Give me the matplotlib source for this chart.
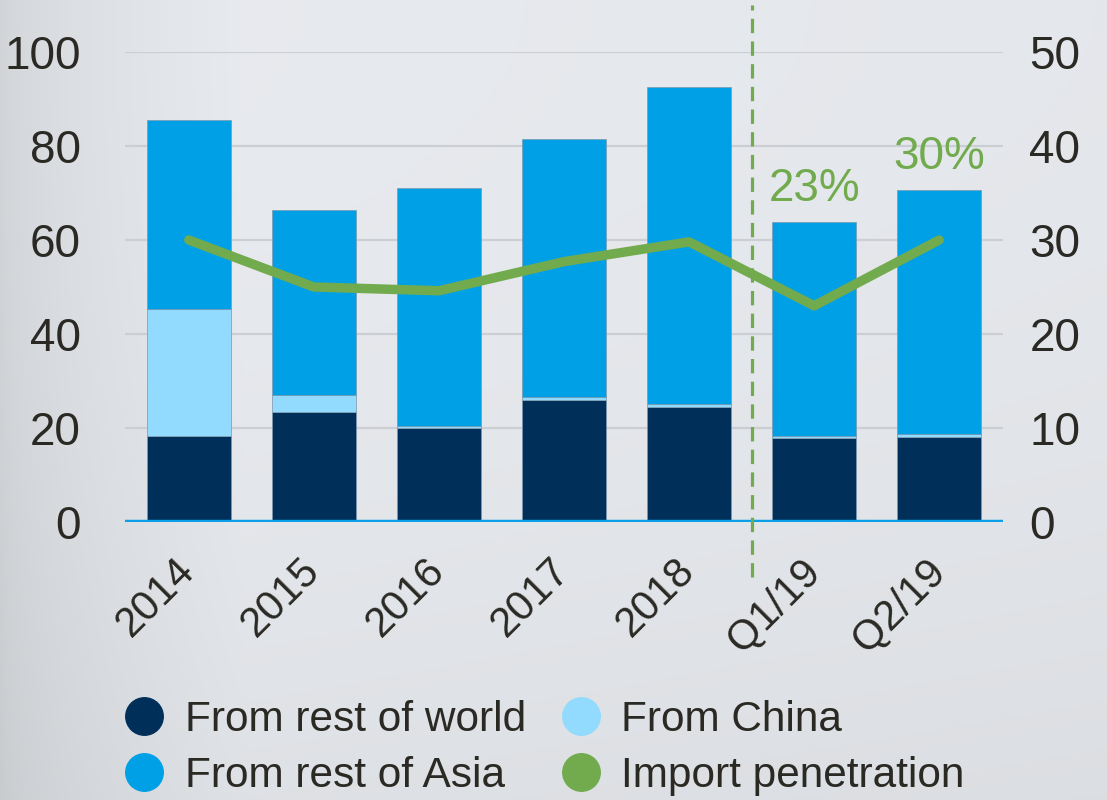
import numpy as np
import matplotlib
matplotlib.use("Agg")
import matplotlib.pyplot as plt
from matplotlib.lines import Line2D

plt.rcParams['font.family'] = ['Liberation Sans', 'DejaVu Sans']

periods = ["2014", "2015", "2016", "2017", "2018", "Q1/19", "Q2/19"]
rest_of_world = [18.3, 23.4, 20.0, 26.0, 24.5, 17.9, 18.1]
china = [27.0, 3.6, 0.5, 0.6, 0.6, 0.4, 0.6]
rest_of_asia = [40.2, 39.4, 50.6, 54.9, 67.5, 45.5, 51.9]
penetration = [30.0, 25.0, 24.6, 27.7, 29.8, 23.0, 30.0]
labelled = [5, 6]  # periods whose penetration is printed above the bar

NAVY = "#00305a"
ASIA = "#00a0e6"
CHINA = "#92dafe"
GREEN = "#72ab4e"
TEXT = "#2a2924"

fig = plt.figure(figsize=(11.07, 8), dpi=100)

# brushed-metal style backdrop
bg = fig.add_axes([0, 0, 1, 1], zorder=-10)
xx = np.linspace(0, 1, 400)
yy = np.linspace(0, 1, 300)
X, Y = np.meshgrid(xx, yy)
shade = 0.82 + 0.09 * np.clip(X / 0.22, 0, 1) ** 0.6 - 0.035 * Y ** 2 - 0.015 * X
rgb = np.dstack([shade * 1.0, shade * 1.012, shade * 1.03]).clip(0, 1)
bg.imshow(rgb, aspect="auto", extent=[0, 1, 0, 1], origin="upper")
bg.set_axis_off()

ax = fig.add_axes([0.1129, 0.3475, 0.7931, 0.5875])
ax.patch.set_alpha(0)
x = np.arange(len(periods))
w = 0.67
edge = dict(edgecolor="#7d98ad", linewidth=0.5)
ax.bar(x, rest_of_world, w, color=NAVY, zorder=3, **edge)
ax.bar(x, china, w, bottom=rest_of_world, color=CHINA, zorder=3, **edge)
base2 = np.add(rest_of_world, china)
ax.bar(x, rest_of_asia, w, bottom=base2, color=ASIA, zorder=3, **edge)
totals = base2 + np.array(rest_of_asia)

ax.set_xlim(-0.51, len(periods) - 0.49)
ax.set_ylim(0, 100)
ax.set_yticks(range(0, 101, 20))
for v in range(20, 101, 20):
    ax.axhline(v, color="#cbced2", lw=1.6, zorder=1)
ax.axhline(0, color="#0a9fe6", lw=3.2, zorder=4)
for s in ax.spines.values():
    s.set_visible(False)
ax.tick_params(axis="y", length=0, pad=32, labelsize=33, labelcolor=TEXT)
ax.tick_params(axis="x", length=0, pad=31, labelsize=30, labelcolor=TEXT)
ax.set_xticks(x)
ax.set_xticklabels(periods, rotation=45, ha="right", va="center",
                   rotation_mode="anchor")

ax2 = ax.twinx()
ax2.set_ylim(0, 50)
ax2.set_yticks(range(0, 51, 10))
for s in ax2.spines.values():
    s.set_visible(False)
ax2.tick_params(axis="y", length=0, pad=19, labelsize=33, labelcolor=TEXT)
ax2.plot(x, penetration, color=GREEN, lw=6.8, solid_capstyle="round",
         solid_joinstyle="round", zorder=5)

for i in labelled:
    ax.text(x[i], totals[i] + 7.0, f"{penetration[i]:.0f}%", color=GREEN,
            fontsize=33, ha="center", va="center", zorder=6)

ax.axvline(4.5, ymin=-0.117, ymax=1.10, clip_on=False, color=GREEN,
           lw=2.3, dashes=(4.5, 2.6), zorder=6)

handles = [
    Line2D([], [], ls="", marker="o", ms=27, color=NAVY, label="From rest of world"),
    Line2D([], [], ls="", marker="o", ms=27, color=ASIA, label="From rest of Asia"),
    Line2D([], [], ls="", marker="o", ms=27, color=CHINA, label="From China"),
    Line2D([], [], ls="", marker="o", ms=27, color=GREEN, label="Import penetration"),
]
fig.legend(handles=handles, ncol=2, loc="center left",
           bbox_to_anchor=(0.098, 0.0655), frameon=False, fontsize=30.5,
           labelcolor=TEXT, handlelength=0.9, handletextpad=0.5,
           columnspacing=0.85, labelspacing=0.38, borderaxespad=0)

fig.savefig("out.png", dpi=100)
